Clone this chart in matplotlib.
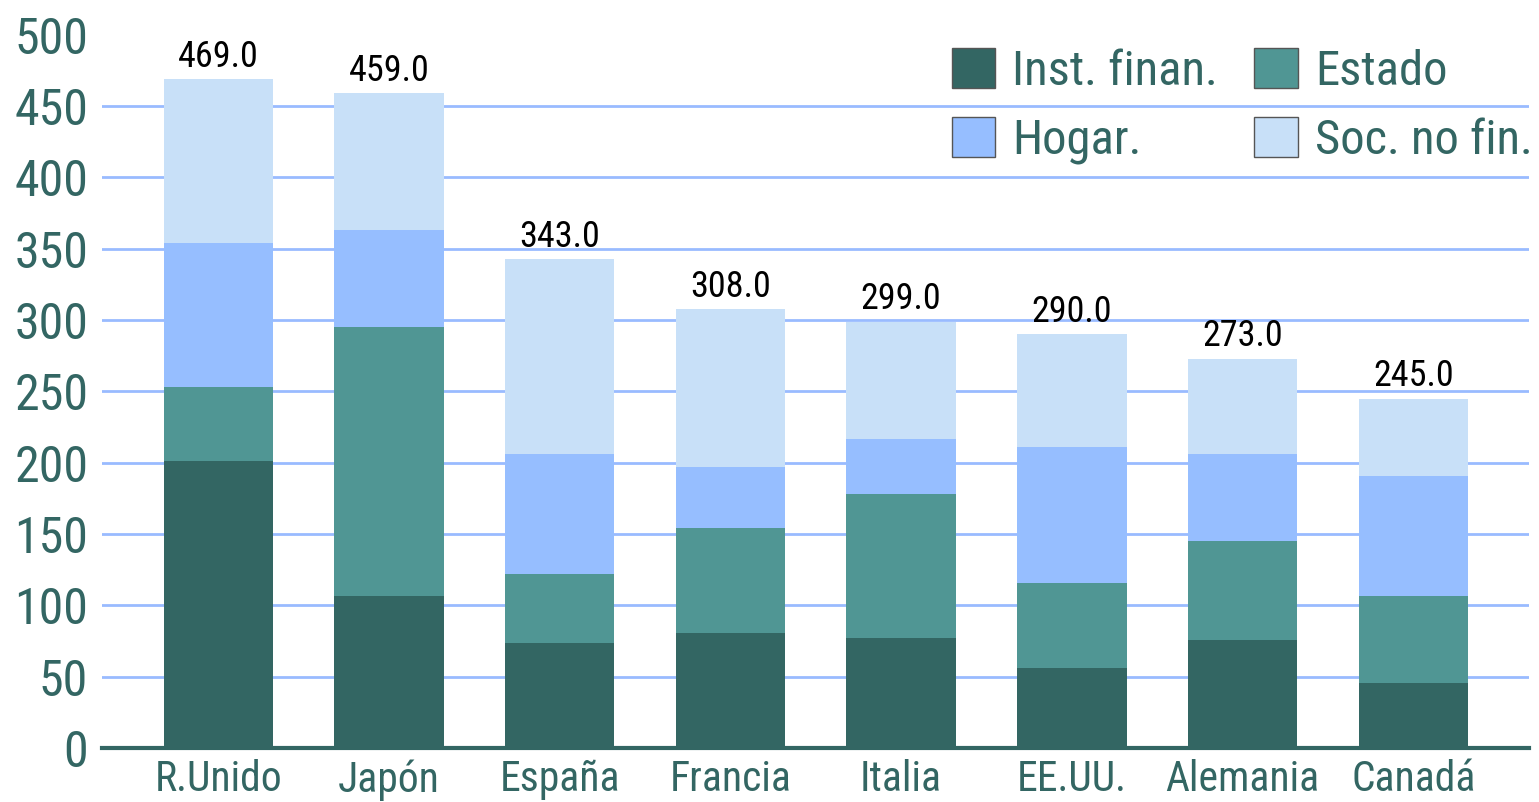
import numpy as np
import matplotlib
matplotlib.use("Agg")
import matplotlib.pyplot as plt
from matplotlib import font_manager as fm
from matplotlib.patches import Patch

# datos
paises = ["R.Unido", "Japón", "España", "Francia", "Italia", "EE.UU.", "Alemania", "Canadá"]
inst_finan = [201, 107, 74, 81, 77, 56, 76, 46]
estado = [52, 188, 48, 73, 101, 60, 69, 61]
hogar = [101, 68, 84, 43, 39, 95, 61, 84]
soc_no_fin = [115, 96, 137, 111, 82, 79, 67, 54]
etiquetas = ["Inst. finan.", "Estado", "Hogar.", "Soc. no fin."]
colores = ["#336663", "#509694", "#96BEFF", "#C8E0F8"]
texto = "#336663"

# buscar una fuente estrecha (el original usa Arial Narrow)
nombres = {f.name for f in fm.fontManager.ttflist}
fuente = None
for cand in ["Liberation Sans Narrow", "Arial Narrow", "Roboto Condensed",
             "Noto Sans Condensed", "Open Sans Condensed", "DejaVu Sans Condensed"]:
    if cand in nombres:
        fuente = cand
        break
estirar = "normal"
if fuente is None:
    for f in fm.fontManager.ttflist:
        if f.name == "DejaVu Sans" and f.stretch == "condensed":
            fuente = "DejaVu Sans"
            estirar = "condensed"
            break
if fuente is None:
    fuente = "Liberation Sans"
plt.rcParams['font.family'] = [fuente, 'DejaVu Sans']
plt.rcParams['font.stretch'] = estirar

series = [inst_finan, estado, hogar, soc_no_fin]

fig = plt.figure(figsize=(15.39, 8.02), dpi=100)
ax = fig.add_axes([0.0663, 0.0671, 0.9275, 0.8896])

x = np.arange(len(paises))
abajo = np.zeros(len(paises))
for vals, col, lab in zip(series, colores, etiquetas):
    ax.bar(x, vals, 0.64, bottom=abajo, color=col, label=lab, zorder=3)
    abajo = abajo + np.array(vals)

# totales encima de cada barra
for xi, tot in zip(x, abajo):
    ax.annotate("%.1f" % tot, (xi, tot), xytext=(0, 3), textcoords="offset points",
                ha="center", va="bottom", fontsize=26, color="black")

ticks = np.arange(0, 501, 50)
for t in ticks[1:-1]:
    ax.axhline(t, color="#99BBFF", lw=2, zorder=1)

ax.set_ylim(0, 500)
ax.set_xlim(-0.68, len(paises) - 1 + 0.68)
ax.set_yticks(ticks)
ax.set_xticks(x)
ax.set_xticklabels(paises)
ax.tick_params(axis="y", length=0, pad=10, labelsize=36, labelcolor=texto)
ax.tick_params(axis="x", length=0, pad=8, labelsize=30, labelcolor=texto)

for s in ["top", "right", "left"]:
    ax.spines[s].set_visible(False)
ax.spines["bottom"].set_color(texto)
ax.spines["bottom"].set_linewidth(3)
ax.spines["bottom"].set_zorder(4)

# leyenda: dos filas, orden por filas
orden = [0, 2, 1, 3]
manejadores = [Patch(facecolor=colores[i], edgecolor="#555555", lw=1) for i in orden]
leg = fig.legend(manejadores, [etiquetas[i] for i in orden], ncol=2, loc="upper right",
                 bbox_to_anchor=(0.996, 0.94), frameon=False, fontsize=35,
                 handlelength=0.9, handleheight=0.9, handletextpad=0.35,
                 columnspacing=0.74, labelspacing=0.45, borderpad=0, borderaxespad=0)
for t in leg.get_texts():
    t.set_color(texto)

fig.savefig("out.png", dpi=100)
